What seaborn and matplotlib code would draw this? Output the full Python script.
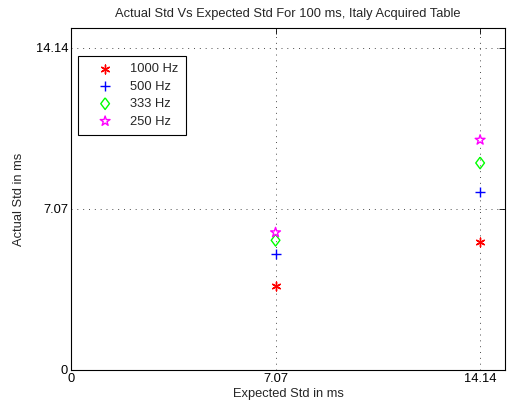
import matplotlib
matplotlib.use("Agg")
import matplotlib.pyplot as plt
import seaborn as sns
import pandas as pd

# Data
expected_std = [7.07, 14.14]
freq_labels = ["1000 Hz", "500 Hz", "333 Hz", "250 Hz"]
actual_1000 = [3.68, 5.63]
actual_500 = [5.07, 7.80]
actual_333 = [5.69, 9.08]
actual_250 = [6.03, 10.09]
tick_vals = [0, 7.07, 14.14]
tick_labels = ["0", "7.07", "14.14"]

sns.set_style("white")
plt.rcParams["font.family"] = ["Liberation Sans", "DejaVu Sans"]
plt.rcParams["font.size"] = 9.3

df = pd.DataFrame({
    "expected": expected_std * 4,
    "actual": actual_1000 + actual_500 + actual_333 + actual_250,
    "freq": [f for f in freq_labels for _ in expected_std],
})

# matlab-like diamond, a bit taller than wide
diamond = [(0, 1), (0.75, 0), (0, -1), (-0.75, 0), (0, 1)]

styles = {
    "1000 Hz": dict(marker=(6, 2, 0), color="#ff0000", s=40, linewidths=1.0),
    "500 Hz": dict(marker="+", color="#0000ff", s=55, linewidths=1.0),
    "333 Hz": dict(marker=diamond, color="#00ff00", facecolor="none", edgecolor="#00ff00", s=70, linewidths=1.0),
    "250 Hz": dict(marker="*", color="#ff00ff", facecolor="none", edgecolor="#ff00ff", s=55, linewidths=1.0),
}

fig = plt.figure(figsize=(5.08, 4.07), dpi=100)
ax = fig.add_axes([71 / 508, 37 / 407, 434 / 508, 342 / 407])

for f in freq_labels:
    sub = df[df["freq"] == f]
    sns.scatterplot(data=sub, x="expected", y="actual", ax=ax, label=f, **styles[f])

ax.set_xlim(0, 15)
ax.set_ylim(0, 15)
ax.set_xticks(tick_vals)
ax.set_xticklabels(tick_labels)
ax.set_yticks(tick_vals)
ax.set_yticklabels(tick_labels)
ax.grid(True, color="k", linestyle=(0, (1, 5)), linewidth=0.7, alpha=0.7)
ax.tick_params(direction="in", top=True, right=True, length=4, width=0.6, pad=2, colors="k")
for sp in ax.spines.values():
    sp.set_visible(True)
    sp.set_color("k")
    sp.set_linewidth(0.8)

ax.set_title("Actual Std Vs Expected Std For 100 ms, Italy Acquired Table", fontsize=9.3, pad=8)
ax.set_xlabel("Expected Std in ms", labelpad=2)
ax.set_ylabel("Actual Std in ms", labelpad=8)

leg = ax.legend(loc="upper left", bbox_to_anchor=(7 / 434, 1 - 28 / 342), borderaxespad=0,
                fancybox=False, framealpha=1, edgecolor="k", handletextpad=0.4,
                labelspacing=0.42, borderpad=0.55, handlelength=3.1)
leg.get_frame().set_linewidth(0.8)

fig.savefig("out.png", dpi=100)
